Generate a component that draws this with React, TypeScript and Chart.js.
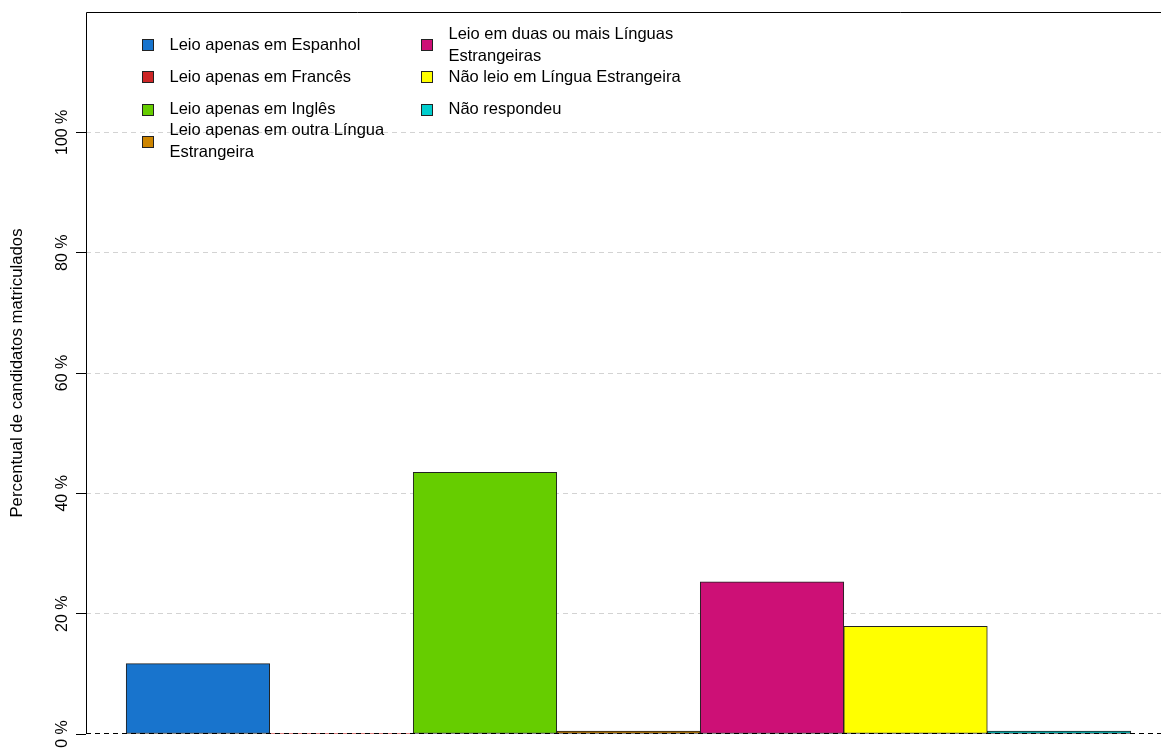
import React, { useEffect, useRef } from 'react';
import { Chart, registerables } from 'chart.js';

Chart.register(...registerables);

const categories: string[] = [
  'Leio apenas em Espanhol',
  'Leio apenas em Francês',
  'Leio apenas em Inglês',
  'Leio apenas em outra Língua\nEstrangeira',
  'Leio em duas ou mais Línguas\nEstrangeiras',
  'Não leio em Língua Estrangeira',
  'Não respondeu',
];
const values: number[] = [11.7, 0.1, 43.5, 0.5, 25.3, 17.9, 0.5];
const colors: string[] = ['#1874CD', '#CD2626', '#66CD00', '#CD8500', '#CD1076', '#FFFF00', '#00CDCD'];
const yTickValues: number[] = [0, 20, 40, 60, 80, 100];
const yTitle = 'Percentual de candidatos matriculados';

const FAMILY = "'Liberation Sans', Arial, Helvetica, sans-serif";
const CANVAS_W = 1180;
const CANVAS_H = 775;
const AREA_RIGHT = 1171;
const AREA_BOTTOM = 734;

const framePlugin = {
  id: 'rFrame',
  afterDatasetsDraw(chart: any) {
    const { ctx, chartArea } = chart;
    const yScale = chart.scales.y;
    ctx.save();
    // zero reference line (dashed, drawn over bars)
    const y0 = Math.round(yScale.getPixelForValue(0)) - 0.5;
    ctx.strokeStyle = '#000';
    ctx.lineWidth = 1;
    ctx.setLineDash([5, 4]);
    ctx.beginPath();
    ctx.moveTo(chartArea.left, y0);
    ctx.lineTo(chartArea.right, y0);
    ctx.stroke();
    // left and top frame lines
    ctx.setLineDash([]);
    const l = Math.round(chartArea.left) + 0.5;
    const t = Math.round(chartArea.top) + 0.5;
    const r = Math.round(chartArea.right) + 0.5;
    ctx.beginPath();
    ctx.moveTo(l, chartArea.bottom);
    ctx.lineTo(l, t);
    ctx.lineTo(r, t);
    ctx.lineTo(r, chartArea.bottom);
    ctx.stroke();
    ctx.restore();
  },
};

const legendPlugin = {
  id: 'rLegend',
  afterDraw(chart: any) {
    const { ctx, chartArea } = chart;
    ctx.save();
    ctx.font = `16.5px ${FAMILY}`;
    ctx.textBaseline = 'middle';
    ctx.textAlign = 'left';
    const perCol = 4;
    const rowH = 32.3;
    const lineH = 22;
    const colX = [chartArea.left + 55.5, chartArea.left + 334.5];
    const firstRow = chartArea.top + 33;
    categories.forEach((label, i) => {
      const col = Math.floor(i / perCol);
      const row = i % perCol;
      const cy = firstRow + row * rowH;
      const sx = colX[col];
      ctx.fillStyle = colors[i];
      ctx.fillRect(Math.round(sx), Math.round(cy - 6), 12, 12);
      ctx.strokeStyle = '#222';
      ctx.lineWidth = 1;
      ctx.strokeRect(Math.round(sx) + 0.5, Math.round(cy - 6) + 0.5, 11, 11);
      const lines = label.split('\n');
      ctx.fillStyle = '#000';
      lines.forEach((ln, k) => {
        const y = cy + (k - (lines.length - 1) / 2) * lineH;
        ctx.fillText(ln, sx + 28, y);
      });
    });
    ctx.restore();
  },
};

export default function App() {
  const ref = useRef<HTMLCanvasElement | null>(null);

  useEffect(() => {
    if (!ref.current) return;
    const chart = new Chart(ref.current, {
      type: 'bar',
      data: {
        datasets: [
          {
            label: yTitle,
            data: values.map((v, i) => ({ x: i + 0.5, y: v })),
            backgroundColor: colors,
            borderColor: '#222',
            borderWidth: 1,
            borderSkipped: false,
            barPercentage: 1,
            categoryPercentage: 1,
          },
        ],
      },
      options: {
        animation: false,
        responsive: false,
        devicePixelRatio: 1,
        layout: {
          padding: { left: 0, top: 12, right: CANVAS_W - AREA_RIGHT, bottom: CANVAS_H - AREA_BOTTOM },
        },
        plugins: {
          legend: { display: false },
          tooltip: { enabled: false },
        },
        scales: {
          x: {
            type: 'linear',
            display: false,
            offset: false,
            min: -0.28,
            max: 7.28,
          },
          y: {
            type: 'linear',
            min: 0,
            max: 120,
            afterBuildTicks: (scale: any) => {
              scale.ticks = yTickValues.map((v) => ({ value: v }));
            },
            afterFit: (scale: any) => {
              scale.width = 86;
            },
            border: { display: false, dash: [5, 4] },
            grid: {
              color: (c: any) => (c.tick && c.tick.value === 0 ? 'rgba(0,0,0,0)' : '#d3d3d3'),
              lineWidth: 1,
              tickColor: '#000',
              tickLength: 10,
              drawTicks: true,
              tickBorderDash: [],
            } as any,
            ticks: {
              color: '#000',
              font: { family: FAMILY, size: 16 },
              minRotation: 90,
              maxRotation: 90,
              crossAlign: 'center',
              padding: -9,
              callback: (v: any) => `${v} %`,
            },
            title: {
              display: true,
              text: yTitle,
              color: '#000',
              font: { family: FAMILY, size: 16.8 },
              padding: { top: 7, bottom: 0 },
            },
          },
        },
      },
      plugins: [framePlugin, legendPlugin],
    } as any);
    return () => chart.destroy();
  }, []);

  return (
    <div style={{ position: 'fixed', left: 0, top: 0, width: 1161, height: 752, overflow: 'hidden', background: '#fff' }}>
      <canvas ref={ref} width={CANVAS_W} height={CANVAS_H} style={{ display: 'block' }} />
    </div>
  );
}
